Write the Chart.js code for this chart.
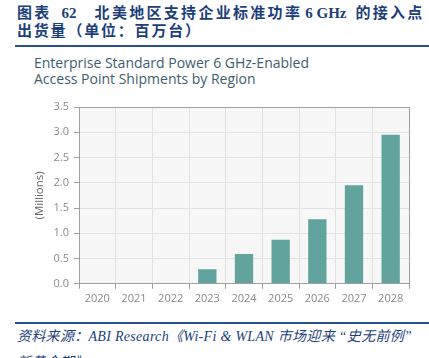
<!DOCTYPE html>
<html><head><meta charset="utf-8">
<script src="https://cdn.jsdelivr.net/npm/chart.js@4.4.1/dist/chart.umd.min.js"></script>
<style>
html,body{margin:0;padding:0;background:#fff;width:429px;height:358px;overflow:hidden;position:relative}
.hd{position:absolute;left:17px;font-family:"Liberation Serif","Noto Sans CJK SC",serif;font-weight:700;font-size:15px;color:#1c3f7c;white-space:nowrap;line-height:17px}
.hd .z{letter-spacing:2.3px}
.hd .y{letter-spacing:1.8px}
.rule{position:absolute;left:15px;width:414px;height:2px;background:#2a4f8f}
.et{position:absolute;left:34px;font-family:"Open Sans",sans-serif;font-size:14px;color:#3d5d6c;white-space:nowrap;line-height:16px}
.src{position:absolute;left:17px;font-family:"Liberation Serif","Noto Sans CJK SC",serif;font-style:italic;font-size:14px;letter-spacing:0.3px;color:#1c3f7c;white-space:nowrap;line-height:18px}
#wrap{position:absolute;left:0;top:95px;width:429px;height:213px}
</style></head><body>
<div class="hd" style="top:5px"><span class="z">图表</span><span style="margin-left:10px">62</span><span class="z" style="margin-left:18px">北美地区支持企业标准功率</span><span style="margin-left:3px">6 GHz</span><span class="z" style="margin-left:9px">的接入点</span></div>
<div class="hd" style="top:23px"><span class="y">出货量（单位：百万台）</span></div>
<div class="rule" style="top:45px"></div>
<div class="et" style="top:55px">Enterprise Standard Power 6 GHz-Enabled</div>
<div class="et" style="top:71px">Access Point Shipments by Region</div>
<div id="wrap"><canvas id="c" width="429" height="213"></canvas></div>
<div class="rule" style="top:322px"></div>
<div class="src" style="top:328px">资料来源：ABI Research《Wi-Fi &amp; WLAN 市场迎来 “史无前例”</div>
<div class="src" style="top:354px">新黄金期》</div>
<script>
const categories = ["2020","2021","2022","2023","2024","2025","2026","2027","2028"];
const shipments = [0, 0, 0, 0.29, 0.59, 0.87, 1.28, 1.95, 2.95];
const yTicks = [0, 0.5, 1.0, 1.5, 2.0, 2.5, 3.0, 3.5];

const frame = {
  id:'frame',
  beforeDraw(chart){
    const a = chart.chartArea, ctx = chart.ctx;
    ctx.save(); ctx.fillStyle = '#f7f7f7';
    ctx.fillRect(a.left, a.top, a.right-a.left, a.bottom-a.top); ctx.restore();
  },
  afterDatasetsDraw(chart){
    const a = chart.chartArea, ctx = chart.ctx;
    ctx.save(); ctx.strokeStyle = '#a0a0a0'; ctx.lineWidth = 1;
    ctx.beginPath();
    ctx.moveTo(a.left, a.top+0.5); ctx.lineTo(a.right+0.5, a.top+0.5); ctx.lineTo(a.right+0.5, a.bottom);
    ctx.stroke(); ctx.restore();
  }
};

new Chart(document.getElementById('c'), {
  type:'bar',
  data:{labels:categories, datasets:[{data:shipments, backgroundColor:'#62a39d', borderWidth:0, barPercentage:0.5, categoryPercentage:1.0}]},
  options:{
    responsive:false, animation:false,
    layout:{padding:{left:33,right:20,top:12,bottom:0}},
    plugins:{legend:{display:false}, tooltip:{enabled:false}},
    scales:{
      x:{
        grid:{color:'#e2e2e2', tickColor:'#a0a0a0', tickLength:5, offset:true},
        border:{color:'#a0a0a0'},
        ticks:{color:'#8a8a8a', font:{family:'Open Sans', size:11}, padding:3}
      },
      y:{
        min:0, max:3.5,
        afterBuildTicks(s){ s.ticks = yTicks.map(v=>({value:v})); },
        afterFit(s){ s.width = 46; },
        grid:{color:'#e2e2e2', tickColor:'#a0a0a0', tickLength:5},
        border:{color:'#a0a0a0'},
        ticks:{color:'#8a8a8a', font:{family:'Open Sans', size:11}, padding:5, callback:v=>v.toFixed(1)},
        title:{display:true, text:'(Millions)', color:'#666666', font:{family:'Open Sans', size:11.5}, padding:{top:0,bottom:0}}
      }
    }
  },
  plugins:[frame]
});
</script>
</body></html>
